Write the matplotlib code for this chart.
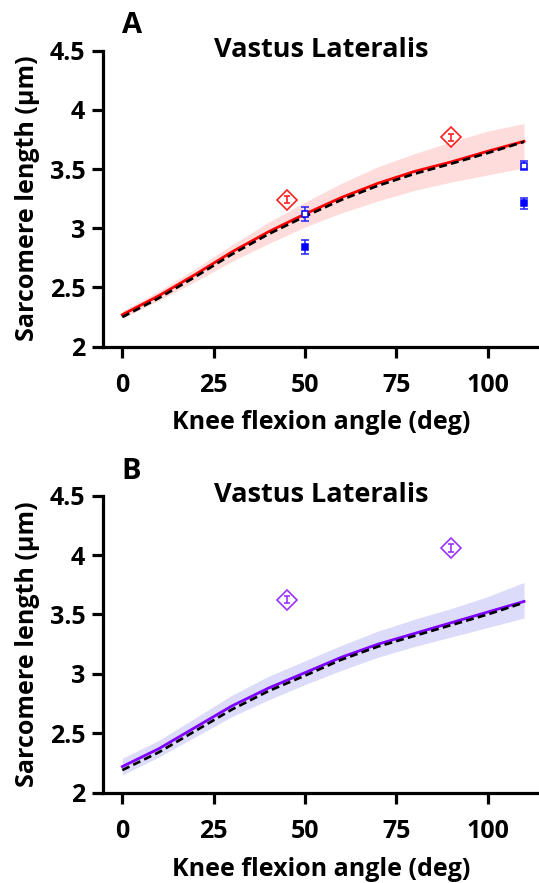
import matplotlib
matplotlib.use("Agg")
import matplotlib.pyplot as plt

plt.rcParams['font.family'] = ['Open Sans', 'DejaVu Sans']
plt.rcParams['font.weight'] = 'bold'

angle = [0, 10, 20, 30, 40, 50, 60, 70, 80, 90, 100, 110]

# panel A model curves
a_model = [2.27, 2.43, 2.61, 2.80, 2.97, 3.12, 3.26, 3.38, 3.48, 3.56, 3.65, 3.735]
a_dash = [2.25, 2.41, 2.59, 2.78, 2.95, 3.10, 3.24, 3.36, 3.46, 3.545, 3.635, 3.73]
a_upper = [2.30, 2.47, 2.66, 2.86, 3.05, 3.22, 3.38, 3.52, 3.63, 3.73, 3.82, 3.885]
a_lower = [2.24, 2.39, 2.55, 2.72, 2.87, 3.01, 3.13, 3.23, 3.32, 3.39, 3.45, 3.51]

# panel A measurements
a_dia_x = [45, 90]
a_dia_y = [3.24, 3.77]
a_dia_err = [0.03, 0.03]
a_open_x = [50, 110]
a_open_y = [3.12, 3.53]
a_open_err = [0.06, 0.04]
a_fill_x = [50, 110]
a_fill_y = [2.84, 3.21]
a_fill_err = [0.06, 0.045]

# panel B model curves
b_model = [2.22, 2.37, 2.55, 2.73, 2.88, 3.01, 3.14, 3.25, 3.34, 3.43, 3.52, 3.61]
b_dash = [2.19, 2.34, 2.52, 2.70, 2.855, 2.985, 3.12, 3.23, 3.32, 3.41, 3.50, 3.60]
b_upper = [2.29, 2.44, 2.63, 2.82, 2.98, 3.11, 3.24, 3.36, 3.46, 3.55, 3.65, 3.77]
b_lower = [2.15, 2.30, 2.47, 2.64, 2.78, 2.91, 3.03, 3.14, 3.23, 3.31, 3.39, 3.47]

b_dia_x = [45, 90]
b_dia_y = [3.625, 4.06]
b_dia_err = [0.03, 0.03]

xticks = [0, 25, 50, 75, 100]
yticks = [2, 2.5, 3, 3.5, 4, 4.5]
yticklabels = ['2', '2.5', '3', '3.5', '4', '4.5']

fig = plt.figure(figsize=(5.39, 8.83), dpi=100)
axA = fig.add_axes([0.1917, 0.6074, 0.8083, 0.3352])
axB = fig.add_axes([0.1917, 0.1023, 0.8083, 0.3363])


def style(ax):
    ax.set_xlim(-5.2, 114.1)
    ax.set_ylim(2, 4.5)
    ax.set_xticks(xticks)
    ax.set_yticks(yticks)
    ax.set_yticklabels(yticklabels)
    for s in ['top', 'right']:
        ax.spines[s].set_visible(False)
    for s in ['left', 'bottom']:
        ax.spines[s].set_linewidth(2.3)
    ax.tick_params(axis='both', width=2.3, length=8, labelsize=18)
    ax.tick_params(axis='x', pad=11)
    ax.tick_params(axis='y', pad=5)
    ax.set_xlabel('Knee flexion angle (deg)', fontsize=18, fontweight='bold')
    ax.set_ylabel('Sarcomere length (µm)', fontsize=18, fontweight='bold')
    ax.xaxis.set_label_coords(0.5, -0.215)
    ax.yaxis.set_label_coords(-0.145, 0.5)
    ax.text(0.5, 0.98, 'Vastus Lateralis', transform=ax.transAxes, ha='center',
            va='baseline', fontsize=19.5, fontweight='bold')


def diamonds(ax, x, y, err, col):
    ax.plot(x, y, 'D', ms=10, mfc='white', mec=col, mew=1.2, zorder=3)
    ax.errorbar(x, y, yerr=err, fmt='none', ecolor=col, elinewidth=1.2,
                capsize=2.5, capthick=1.2, zorder=4)


# panel A
axA.fill_between(angle, a_lower, a_upper, color='#ffdcdc', lw=0)
axA.plot(angle, a_model, color='#ff0000', lw=2.0)
axA.plot(angle, a_dash, color='black', lw=1.9, ls=(0, (3, 1.6)))
diamonds(axA, a_dia_x, a_dia_y, a_dia_err, '#ff2020')
axA.errorbar(a_open_x, a_open_y, yerr=a_open_err, fmt='s', ms=5, mfc='white',
             mec='#0000ff', mew=1.1, ecolor='#2020ff', elinewidth=1.1, capsize=3,
             clip_on=False)
axA.errorbar(a_fill_x, a_fill_y, yerr=a_fill_err, fmt='s', ms=5, mfc='#0000ff',
             mec='#0000ff', mew=1.1, ecolor='#2020ff', elinewidth=1.1, capsize=3,
             clip_on=False)
style(axA)

# panel B
axB.fill_between(angle, b_lower, b_upper, color='#dcdcfa', lw=0)
axB.plot(angle, b_model, color='#8000ff', lw=2.0)
axB.plot(angle, b_dash, color='black', lw=1.9, ls=(0, (3, 1.6)))
diamonds(axB, b_dia_x, b_dia_y, b_dia_err, '#9933ff')
style(axB)

fig.text(0.2256, 0.9623, 'A', fontsize=21, fontweight='bold', ha='left', va='baseline')
fig.text(0.2256, 0.4575, 'B', fontsize=21, fontweight='bold', ha='left', va='baseline')

fig.savefig('out.png', dpi=100)
